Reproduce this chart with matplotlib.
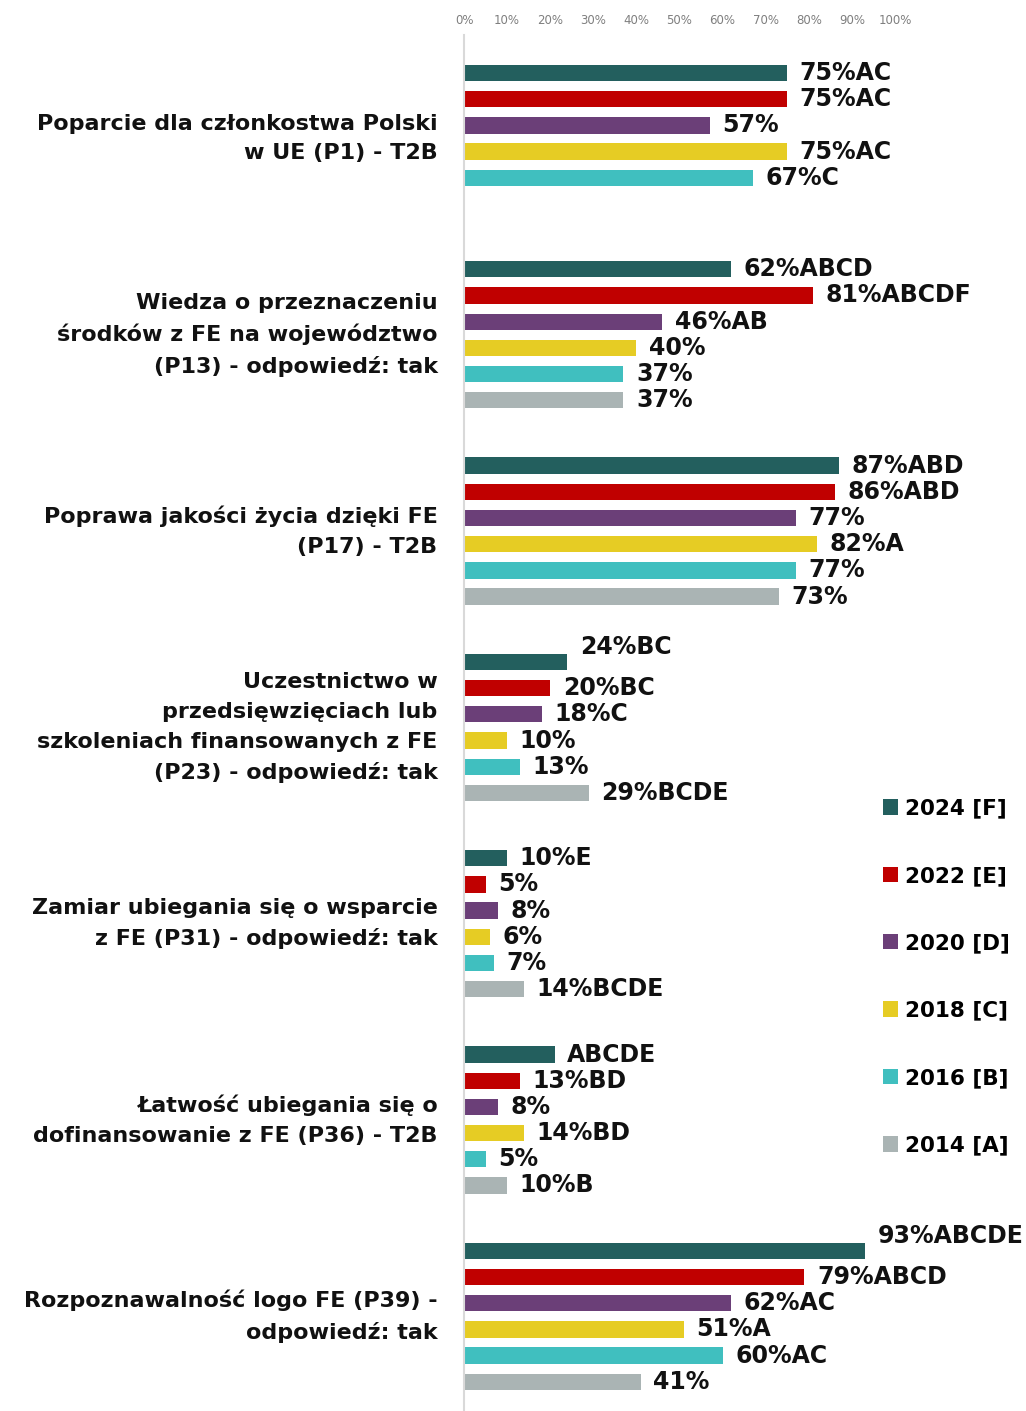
import matplotlib
matplotlib.use("Agg")
import matplotlib.pyplot as plt
from matplotlib.patches import Patch
import numpy as np

plt.rcParams['font.family'] = ['DejaVu Sans']

categories = [
    "Poparcie dla członkostwa Polski\nw UE (P1) - T2B",
    "Wiedza o przeznaczeniu\nśrodków z FE na województwo\n(P13) - odpowiedź: tak",
    "Poprawa jakości życia dzięki FE\n(P17) - T2B",
    "Uczestnictwo w\nprzedsięwzięciach lub\nszkoleniach finansowanych z FE\n(P23) - odpowiedź: tak",
    "Zamiar ubiegania się o wsparcie\nz FE (P31) - odpowiedź: tak",
    "Łatwość ubiegania się o\ndofinansowanie z FE (P36) - T2B",
    "Rozpoznawalność logo FE (P39) -\nodpowiedź: tak",
]

series_names = ["2024 [F]", "2022 [E]", "2020 [D]", "2018 [C]", "2016 [B]", "2014 [A]"]
colors = ["#235f5e", "#c00000", "#6b3f78", "#e6cc24", "#40bfbf", "#aab4b4"]

v2024 = [75, 62, 87, 24, 10, 21, 93]
v2022 = [75, 81, 86, 20, 5, 13, 79]
v2020 = [57, 46, 77, 18, 8, 8, 62]
v2018 = [75, 40, 82, 10, 6, 14, 51]
v2016 = [67, 37, 77, 13, 7, 5, 60]
v2014 = [None, 37, 73, 29, 14, 10, 41]

l2024 = ["75%AC", "62%ABCD", "87%ABD", "24%BC", "10%E", "ABCDE", "93%ABCDE"]
l2022 = ["75%AC", "81%ABCDF", "86%ABD", "20%BC", "5%", "13%BD", "79%ABCD"]
l2020 = ["57%", "46%AB", "77%", "18%C", "8%", "8%", "62%AC"]
l2018 = ["75%AC", "40%", "82%A", "10%", "6%", "14%BD", "51%A"]
l2016 = ["67%C", "37%", "77%", "13%", "7%", "5%", "60%AC"]
l2014 = [None, "37%", "73%", "29%BCDE", "14%BCDE", "10%B", "41%"]

values = [v2024, v2022, v2020, v2018, v2016, v2014]
labels = [l2024, l2022, l2020, l2018, l2016, l2014]
xticks = [0, 10, 20, 30, 40, 50, 60, 70, 80, 90, 100]

W, H = 1026, 1411
fig = plt.figure(figsize=(W / 100, H / 100), dpi=100)
top_px, bot_px = 35, 1411
ax = fig.add_axes([464 / W, 1 - bot_px / H, 431 / W, (bot_px - top_px) / H])

slot_px = 26.2
group_gap = 196.3 / slot_px
first_px = 73
ax.set_ylim((bot_px - first_px) / slot_px, -(first_px - top_px) / slot_px)
ax.set_xlim(0, 100)

# label vertical tweaks (series index, group index) -> data units
label_dy = {(0, 3): -0.57, (0, 6): -0.57}

for s, (vals, labs, col) in enumerate(zip(values, labels, colors)):
    for g, (v, lab) in enumerate(zip(vals, labs)):
        if v is None:
            continue
        y = g * group_gap + s
        ax.barh(y, v, height=0.62, color=col, edgecolor='none')
        ax.annotate(lab, xy=(v, y + label_dy.get((s, g), 0)), xytext=(9, 0),
                    textcoords='offset points', ha='left', va='center',
                    fontsize=17, fontweight='bold', color='#111111',
                    annotation_clip=False)

for g, cat in enumerate(categories):
    yc = g * group_gap + 2.5
    ax.annotate(cat, xy=(0, yc), xytext=(-19, 0), textcoords='offset points',
                ha='right', va='center', fontsize=16, fontweight='bold',
                color='#111111', linespacing=1.62, multialignment='right',
                annotation_clip=False)

ax.xaxis.tick_top()
ax.set_xticks(xticks)
ax.set_xticklabels([f"{t}%" for t in xticks], fontsize=8.5, color='#7f7f7f')
ax.tick_params(axis='x', length=0, pad=6)
ax.set_yticks([])
for sp in ['top', 'right', 'bottom']:
    ax.spines[sp].set_visible(False)
ax.spines['left'].set_color('#d9d9d9')
ax.spines['left'].set_linewidth(1.5)

handles = [Patch(facecolor=c, edgecolor='none', label=n) for c, n in zip(colors, series_names)]
fig.legend(handles=handles, loc='upper left', bbox_to_anchor=(874 / W, 1 - 790 / H),
           frameon=False, prop={'weight': 'bold', 'size': 15.5},
           handlelength=0.72, handleheight=0.72, handletextpad=0.3,
           labelspacing=2.2, borderaxespad=0)

fig.savefig("out.png", dpi=100)
